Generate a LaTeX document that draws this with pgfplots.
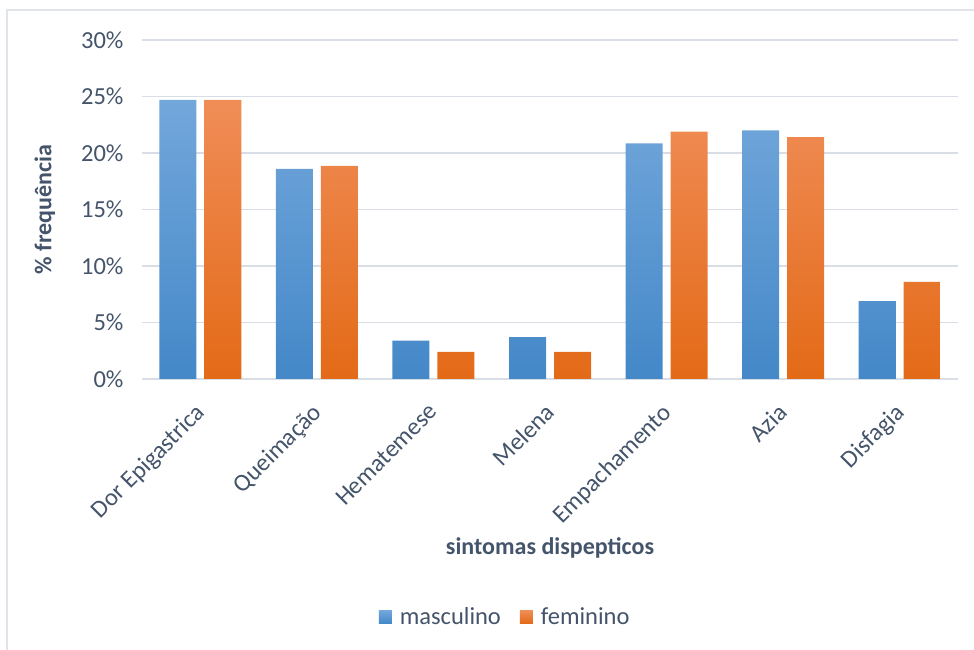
\documentclass[border=0pt]{standalone}
\usepackage{pgfplots}
\pgfplotsset{compat=1.18}
\usepackage{fontspec}
\setmainfont{Carlito}

\definecolor{txt}{HTML}{44546A}
\definecolor{gridc}{HTML}{D9DEE6}
\definecolor{framec}{HTML}{E1E5EB}
\definecolor{bluetop}{HTML}{72A7DB}
\definecolor{bluemid}{HTML}{559BDB}
\definecolor{bluebot}{HTML}{4488C8}
\definecolor{orgtop}{HTML}{F08D57}
\definecolor{orgmid}{HTML}{F47F2A}
\definecolor{orgbot}{HTML}{E36A17}

\pgfplotstableread{
x masc fem
0 24.7 24.7
1 18.6 18.85
2 3.4 2.4
3 3.7 2.4
4 20.85 21.9
5 22.0 21.4
6 6.9 8.6
}\dados

\begin{document}
\begin{tikzpicture}[x=1pt,y=1pt]
\path[use as bounding box] (0,0) rectangle (974,650);
\draw[framec, line width=2pt] (7,0) -- (7,640) -- (974,640);
\begin{axis}[
  at={(142pt,271pt)}, anchor=south west,
  scale only axis, width=816pt, height=339pt,
  xmin=-0.5, xmax=6.5, ymin=0, ymax=30,
  axis line style={draw=none},
  ymajorgrids, xmajorgrids=false,
  grid style={draw=gridc, line width=1.8pt},
  ytick={0,5,...,30},
  yticklabel={\pgfmathprintnumber{\tick}\%},
  /pgf/number format/assume math mode=true,
  xtick=data,
  xticklabels={Dor Epigastrica, Queimação, Hematemese, Melena, Empachamento, Azia, Disfagia},
  major tick length=0pt,
  tick label style={font=\fontsize{24.5}{28}\selectfont, text=txt},
  yticklabel style={xshift=-15pt},
  xticklabel style={anchor=north east, inner sep=0pt, xshift=-6pt, yshift=-23pt, rotate=45},
  ylabel={\textbf{\% frequência}},
  ylabel style={font=\fontsize{24}{28}\selectfont, text=txt, at={(axis description cs:-0.119,0.5)}, anchor=center},
  xlabel={\textbf{sintomas dispepticos}},
  xlabel style={font=\fontsize{24}{28}\selectfont, text=txt, at={(axis description cs:0.5,-0.4985)}, anchor=center},
  clip=false,
  legend style={draw=none, at={(axis description cs:0.445,-0.702)}, anchor=center,
    font=\fontsize{24.5}{29}\selectfont, text=txt,
    /tikz/every even column/.append style={column sep=17pt}},
  legend columns=2,
  legend image code/.code={\fill[#1] (0pt,-6.5pt) rectangle (13pt,6.5pt);},
]
\addplot[ybar, bar width=37pt, bar shift=-22.5pt, draw=none,
  top color=bluetop, middle color=bluemid, bottom color=bluebot]
  table[x=x, y=masc] {\dados};
\addlegendentry{\hspace{6pt}masculino}
\addplot[ybar, bar width=37pt, bar shift=22.5pt, draw=none,
  top color=orgtop, middle color=orgmid, bottom color=orgbot]
  table[x=x, y=fem] {\dados};
\addlegendentry{\hspace{6pt}feminino}
\end{axis}
\end{tikzpicture}
\end{document}
